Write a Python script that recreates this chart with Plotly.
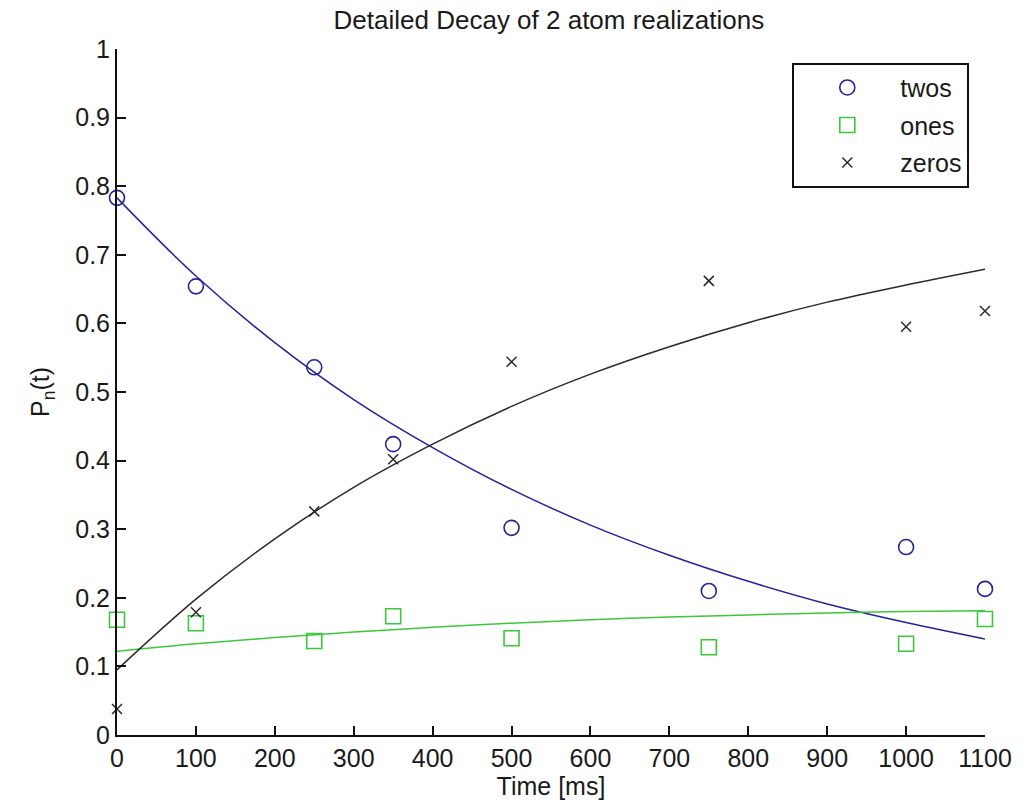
import plotly.graph_objects as go

# Measured data
time_ms = [0, 100, 250, 350, 500, 750, 1000, 1100]
twos = [0.783, 0.654, 0.536, 0.424, 0.302, 0.210, 0.274, 0.213]
ones = [0.168, 0.163, 0.137, 0.173, 0.141, 0.128, 0.133, 0.169]
zeros = [0.038, 0.179, 0.326, 0.402, 0.544, 0.662, 0.595, 0.618]

# Fit curves
fit_time = [0, 100, 200, 300, 400, 500, 600, 700, 800, 900, 1000, 1100]
fit_twos = [0.783, 0.669, 0.572, 0.489, 0.419, 0.358, 0.306, 0.262, 0.224, 0.191, 0.164, 0.140]
fit_ones = [0.122, 0.133, 0.142, 0.150, 0.157, 0.163, 0.168, 0.172, 0.175, 0.178, 0.180, 0.181]
fit_zeros = [0.095, 0.198, 0.286, 0.361, 0.424, 0.479, 0.526, 0.566, 0.601, 0.631, 0.656, 0.679]

x_ticks = [0, 100, 200, 300, 400, 500, 600, 700, 800, 900, 1000, 1100]
y_ticks = [0, 0.1, 0.2, 0.3, 0.4, 0.5, 0.6, 0.7, 0.8, 0.9, 1]
y_tick_labels = ["0", "0.1", "0.2", "0.3", "0.4", "0.5", "0.6", "0.7", "0.8", "0.9", "1"]

BLUE = "#23239a"
GREEN = "#3cc83c"
BLACK = "#2a2a2a"

fig = go.Figure()

fig.add_trace(go.Scatter(x=fit_time, y=fit_twos, mode="lines", line=dict(color=BLUE, width=1.5, shape="spline"), showlegend=False, hoverinfo="skip"))
fig.add_trace(go.Scatter(x=fit_time, y=fit_ones, mode="lines", line=dict(color=GREEN, width=1.5, shape="spline"), showlegend=False, hoverinfo="skip"))
fig.add_trace(go.Scatter(x=fit_time, y=fit_zeros, mode="lines", line=dict(color=BLACK, width=1.5, shape="spline"), showlegend=False, hoverinfo="skip"))

fig.add_trace(go.Scatter(x=time_ms, y=twos, mode="markers", name="twos", legendgroup="a", cliponaxis=False,
                         marker=dict(symbol="circle-open", size=15, color=BLUE, line=dict(width=1.6, color=BLUE))))
fig.add_trace(go.Scatter(x=time_ms, y=ones, mode="markers", name="ones", legendgroup="b", cliponaxis=False,
                         marker=dict(symbol="square-open", size=15, color=GREEN, line=dict(width=1.6, color=GREEN))))
fig.add_trace(go.Scatter(x=time_ms, y=zeros, mode="markers", name="zeros", legendgroup="c", cliponaxis=False,
                         marker=dict(symbol="x-thin-open", size=10, color=BLACK, line=dict(width=1.5, color=BLACK))))

FONT = "Liberation Sans, Arial, sans-serif"

fig.update_layout(
    width=1026, height=810,
    margin=dict(l=117, r=41, t=49, b=75),
    paper_bgcolor="white", plot_bgcolor="white",
    font=dict(family=FONT, color="#1a1a1a", size=25),
    title=dict(text="Detailed Decay of 2 atom realizations", x=0.535, xanchor="center",
               y=0.975, yanchor="middle", font=dict(size=26, family=FONT)),
    xaxis=dict(range=[0, 1100], tickvals=x_ticks, showgrid=False, zeroline=False,
               showline=True, linecolor="#111", linewidth=2, ticks="inside", ticklen=9,
               tickwidth=2, tickcolor="#111", tickfont=dict(size=25),
               title=dict(text="Time [ms]", font=dict(size=25), standoff=4)),
    yaxis=dict(range=[0, 1], tickvals=y_ticks, ticktext=y_tick_labels, showgrid=False, zeroline=False,
               showline=True, linecolor="#111", linewidth=2, ticks="inside", ticklen=9,
               tickwidth=2, tickcolor="#111", tickfont=dict(size=25),
               title=dict(text="P<sub>n</sub>(t)", font=dict(size=25), standoff=18)),
    legend=dict(x=0.778, y=0.98, xanchor="left", yanchor="top", bgcolor="white",
                bordercolor="#111", borderwidth=2, font=dict(size=25),
                itemwidth=96, tracegroupgap=2),
)

fig.write_html("out.html")
